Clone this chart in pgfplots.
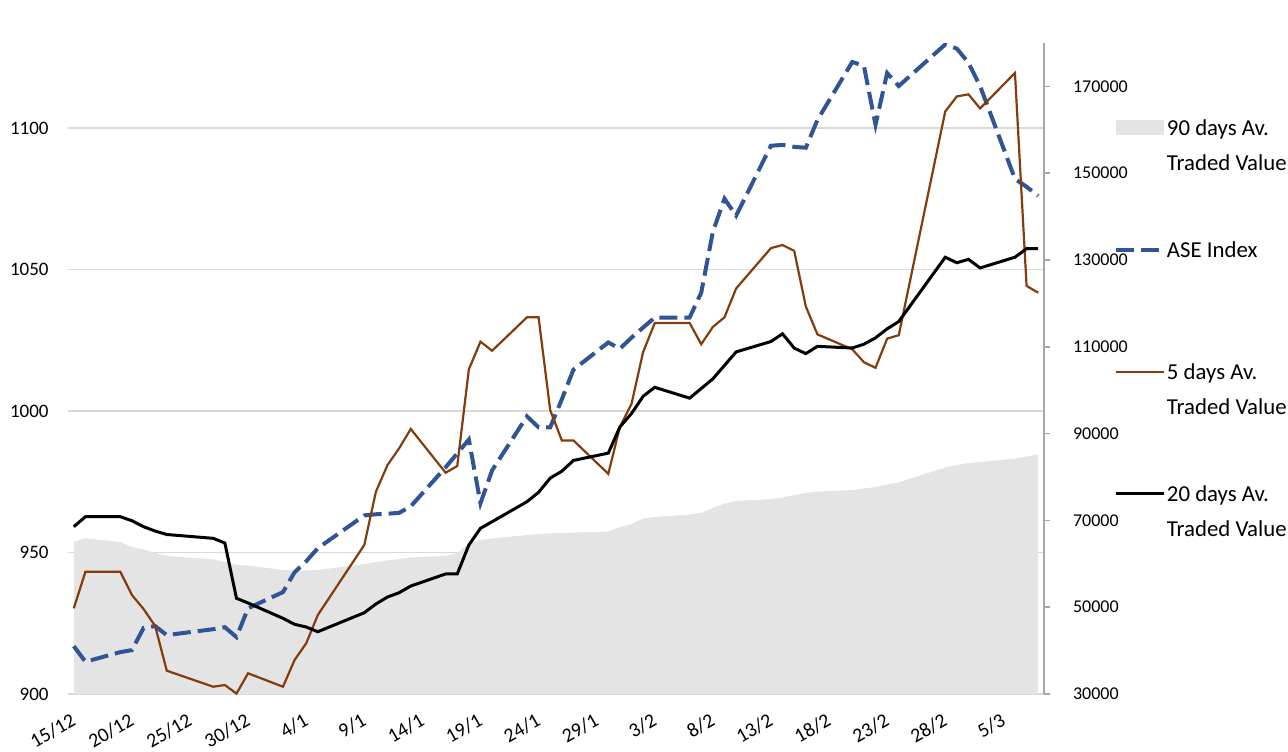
\documentclass[border=0pt]{standalone}
\usepackage{fontspec}
\setmainfont{Carlito}
\usepackage{pgfplots}
\pgfplotsset{compat=1.18}
\usepackage{pgfplotstable}
\definecolor{areagray}{HTML}{E4E4E4}
\definecolor{gridgray}{HTML}{D9D9D9}
\definecolor{aseblue}{HTML}{2F5597}
\definecolor{brn}{HTML}{843C0C}
\definecolor{axgray}{HTML}{A6A6A6}

% x = calendar day counted from 15/12
\pgfplotstableread{
x area ase d5 d20
0 65090 916.9 49750 68550
1 65870 911.4 58180 70850
4 65020 914.8 58180 70850
5 63870 915.5 52810 69930
6 63340 923.3 49600 68550
7 62490 924.0 45670 67550
8 61800 920.8 35370 66750
12 61030 922.9 31680 65870
13 60410 923.6 32070 64790
14 59720 920.1 30100 52050
15 59610 930.3 34770 50970
18 58570 936.0 31680 47440
19 58450 943.0 37830 46060
20 58450 946.9 41680 45440
21 58570 951.5 48200 44350
25 59950 963.1 64330 48730
26 60410 963.5 76610 50740
27 60760 963.7 82760 52350
28 61100 964.0 86610 53340
29 61450 966.3 91060 54880
32 61800 980.1 80990 57660
33 62490 985.0 82530 57660
34 64790 989.9 104810 64330
35 65480 967.4 111170 68180
36 65830 979.0 109100 69700
39 66630 998.1 116790 74310
40 66860 994.2 116790 76470
41 67030 994.2 95430 79740
42 67100 1004.1 88430 81330
43 67210 1014.6 88430 83820
46 67440 1024.2 80730 85500
47 68480 1022.0 91540 91540
48 69170 1025.9 96860 94630
49 70430 1029.5 108820 98610
50 70780 1033.0 115480 100660
53 71360 1033.0 115480 98170
54 71770 1041.8 110600 100390
55 72860 1063.3 114580 102620
56 73890 1075.0 116790 105710
57 74470 1069.0 123430 108820
60 74920 1093.7 132740 111220
61 75270 1094.0 133450 112990
62 75850 1093.3 132110 109700
63 76310 1093.0 119300 108430
64 76630 1102.8 112870 110110
67 77000 1123.3 109420 109720
68 77350 1121.9 106450 110600
69 77690 1101.1 105160 112070
70 78270 1119.4 111890 114140
71 78780 1114.8 112670 115820
75 82190 1129.5 164230 130640
76 82760 1128.0 167690 129370
77 83220 1123.0 168170 130150
78 83450 1114.8 164920 128170
81 84240 1082.0 173100 130640
82 84720 1079.2 124030 132620
83 85230 1076.0 122460 132620
}\data

\pgfplotsset{
  base/.style={
    at={(0,0)}, anchor=south west,
    scale only axis, width=488pt, height=325.5pt,
    xmin=-0.5, xmax=83.5,
    /pgf/number format/assume math mode=true,
    /pgf/number format/1000 sep={},
    /pgf/number format/fixed,
    /pgf/number format/precision=0,
  },
  leftax/.style={ymin=900, ymax=1130},
  rightax/.style={ymin=30000, ymax=180000},
}

\begin{document}
\begin{tikzpicture}
\path[use as bounding box] (-34pt,-28.5pt) rectangle (610pt,347pt);
% grid, left and x tick labels
\begin{axis}[base, leftax,
  axis line style={draw=none},
  ytick={900,950,1000,1050,1100},
  ymajorgrids, grid style={gridgray, line width=0.75pt},
  major tick length=0pt,
  xtick={0,5,...,80},
  xticklabels={15/12,20/12,25/12,30/12,4/1,9/1,14/1,19/1,24/1,29/1,3/2,8/2,13/2,18/2,23/2,28/2,5/3},
  xticklabel style={xshift=-1.8pt, yshift=-9pt, rotate=30, anchor=north east, inner sep=0pt, font=\fontsize{10}{12}\selectfont},
  yticklabel style={inner sep=0pt, xshift=-9.5pt, font=\fontsize{9.5}{11}\selectfont},
]
\addplot[draw=none] coordinates {(0,900)};
\end{axis}
% 90 days area and right axis
\begin{axis}[base, rightax,
  axis y line*=right, axis x line=none,
  y axis line style={axgray, line width=0.75pt},
  ytick={30000,50000,...,170000},
  ytick style={axgray, line width=0.75pt},
  tick align=outside, major tick length=3pt,
  scaled y ticks=false,
  yticklabel style={inner sep=0pt, xshift=11.3pt, font=\fontsize{9}{11}\selectfont},
  xtick=\empty,
]
\addplot[fill=areagray, draw=none] table[x=x, y=area] {\data} \closedcycle;
\end{axis}
% ASE index
\begin{axis}[base, leftax, hide axis]
\addplot[aseblue, line width=2pt, dash pattern=on 9pt off 3.5pt] table[x=x, y=ase] {\data};
\end{axis}
% 5 and 20 days averages + legend
\begin{axis}[base, rightax, hide axis,
  legend cell align=left,
  legend style={at={(1.0717,0.918)}, anchor=north west, draw=none, fill=none,
    inner sep=0pt, outer sep=0pt, row sep=25pt, column sep=0.5pt,
    font=\fontsize{11.4}{17.5}\selectfont, nodes={inner sep=0pt}},
]
\addlegendimage{legend image code/.code={\path[draw=none, fill=none] (0pt,-18pt) rectangle (24pt,18pt); \fill[areagray, draw=none] (0pt,-1.4pt) rectangle (24pt,6.1pt);}}
\addlegendentry{\begin{tabular}{@{}l@{}}90 days Av.\\Traded Value\end{tabular}}
\addlegendimage{legend image code/.code={\path[draw=none, fill=none] (0pt,-18pt) rectangle (24pt,18pt); \draw[aseblue, line width=2pt, dash pattern=on 9pt off 3.5pt] (0pt,2.2pt) -- (24pt,2.2pt);}}
\addlegendentry{\begin{tabular}{@{}l@{}}ASE Index\\\mbox{}\end{tabular}}
\addplot[brn, line width=1.1pt, legend image code/.code={\path[draw=none, fill=none] (0pt,-18pt) rectangle (24pt,18pt); \draw[brn, line width=1.1pt] (0pt,2.2pt) -- (24pt,2.2pt);}] table[x=x, y=d5] {\data};
\addlegendentry{\begin{tabular}{@{}l@{}}5 days Av.\\Traded Value\end{tabular}}
\addplot[black, line width=1.5pt, legend image code/.code={\path[draw=none, fill=none] (0pt,-18pt) rectangle (24pt,18pt); \draw[black, line width=1.5pt] (0pt,2.2pt) -- (24pt,2.2pt);}] table[x=x, y=d20] {\data};
\addlegendentry{\begin{tabular}{@{}l@{}}20 days Av.\\Traded Value\end{tabular}}
\end{axis}
\end{tikzpicture}
\end{document}
